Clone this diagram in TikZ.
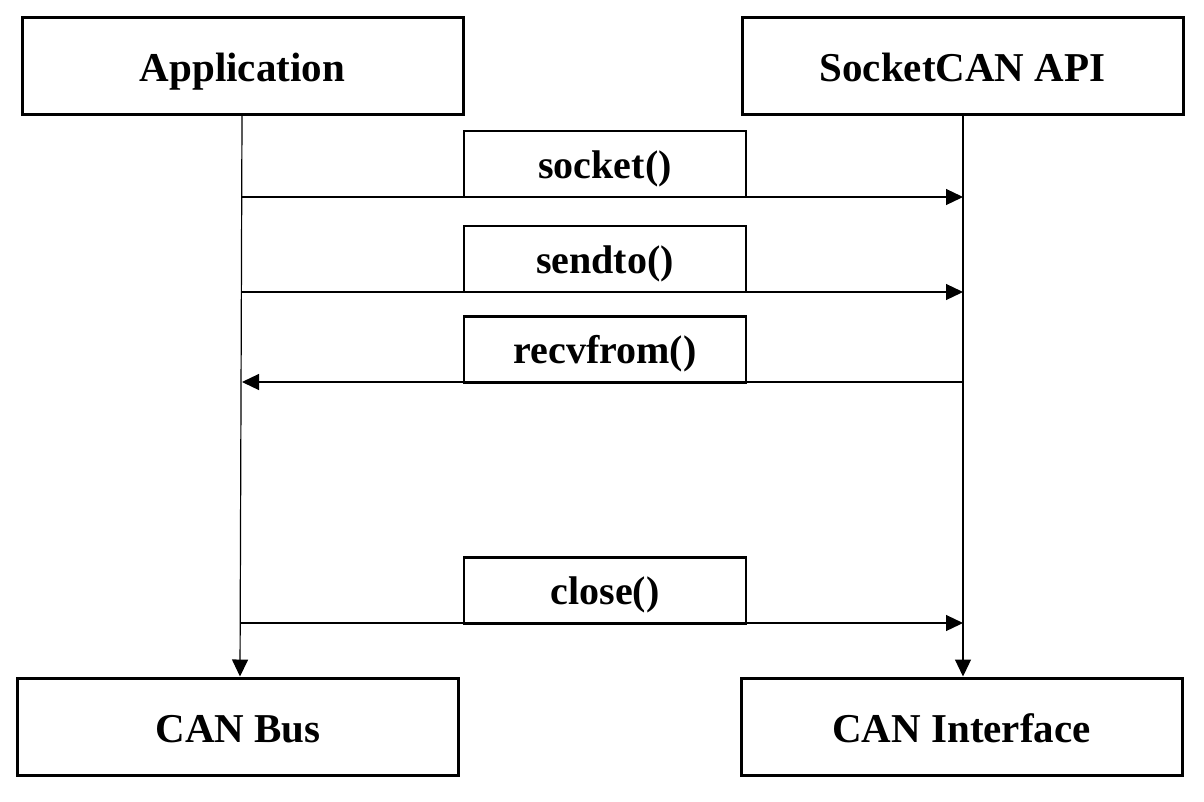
\documentclass[tikz,border=0pt]{standalone}
\usepackage{fontspec}
\setmainfont{Liberation Serif}
\usetikzlibrary{arrows.meta}
\tikzset{
  bigbox/.style={draw, line width=3pt, minimum width=441pt, minimum height=97pt, inner sep=0pt, text height=31pt, text depth=0pt, font=\fontsize{41}{48}\selectfont\bfseries},
  msgbox/.style={draw, line width=2.6pt, minimum width=282pt, minimum height=66pt, inner sep=0pt, text height=28pt, text depth=0pt, font=\fontsize{40}{46}\selectfont\bfseries},
  conn/.style={line width=1.2pt, -{Triangle[length=17pt,width=16pt]}},
}
\begin{document}
\begin{tikzpicture}[x=1pt,y=-1pt]
\useasboundingbox (0,0) rectangle (1204,801);
\node[bigbox] (app) at (242.5,66) {Application};
\node[bigbox] (api) at (962.5,66) {SocketCAN API};
\node[bigbox] (bus) at (238,726.5) {CAN Bus};
\node[bigbox] (ifc) at (961.5,726.5) {CAN Interface};
\coordinate (L1) at (242,197); \coordinate (R1) at (963,197);
\coordinate (L2) at (242,292); \coordinate (R2) at (963,292);
\coordinate (L3) at (242,382); \coordinate (R3) at (963,382);
\coordinate (L4) at (240,623); \coordinate (R4) at (963,623);
\draw[conn] (app.south -| L1) -- (bus.north -| L4);
\draw[conn] (api.south -| R1) -- (ifc.north -| R1);
\draw[conn] (L1) -- (R1);
\draw[conn] (L2) -- (R2);
\draw[conn] (R3) -- (L3);
\draw[conn] (L4) -- (R4);
\node[msgbox, fill=white] (m1) at (605,164) {socket()};
\node[msgbox, fill=white] (m2) at (605,259) {sendto()};
\node[msgbox, fill=white] (m3) at (605,349.5) {recvfrom()};
\node[msgbox, fill=white] (m4) at (605,590.5) {close()};
\end{tikzpicture}
\end{document}
